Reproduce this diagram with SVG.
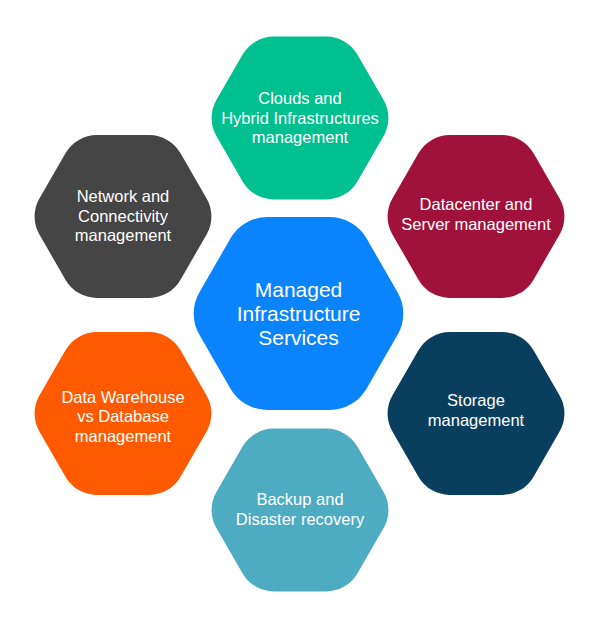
<svg xmlns="http://www.w3.org/2000/svg" xmlns:xlink="http://www.w3.org/1999/xlink" width="600" height="628" viewBox="0 0 600 628">
<style>
.t{font-family:"Liberation Sans",Arial,sans-serif;font-size:16.5px;fill:#ffffff;text-anchor:middle}
.tc{font-family:"Liberation Sans",Arial,sans-serif;font-size:21px;fill:#ffffff;text-anchor:middle}
</style>
<defs>
<path id="hex" d="M-26.22,-81.41 L26.22,-81.41 A36,36 0 0 1 57.39,-63.41 L83.61,-18 A36,36 0 0 1 83.61,18 L57.39,63.41 A36,36 0 0 1 26.22,81.41 L-26.22,81.41 A36,36 0 0 1 -57.39,63.41 L-83.61,18 A36,36 0 0 1 -83.61,-18 L-57.39,-63.41 A36,36 0 0 1 -26.22,-81.41 Z"/>
</defs>
<rect width="600" height="628" fill="#ffffff"/>
<g id="connectors"></g>
<g id="clouds">
<use xlink:href="#hex" href="#hex" transform="translate(300,118)" fill="#00C08F"/>
<text class="t" x="300" y="104">Clouds and</text>
<text class="t" x="300" y="123.5">Hybrid Infrastructures</text>
<text class="t" x="300" y="143">management</text>
</g>
<g id="network">
<use xlink:href="#hex" href="#hex" transform="translate(123,216.5)" fill="#454545"/>
<text class="t" x="123" y="202">Network and</text>
<text class="t" x="123" y="221.5">Connectivity</text>
<text class="t" x="123" y="241">management</text>
</g>
<g id="datacenter">
<use xlink:href="#hex" href="#hex" transform="translate(476,216.5)" fill="#A0113B"/>
<text class="t" x="476" y="210">Datacenter and</text>
<text class="t" x="476" y="229.5">Server management</text>
</g>
<g id="center">
<use xlink:href="#hex" href="#hex" transform="translate(298.5,313.5) scale(1.185)" fill="#0A84FC"/>
<text class="tc" x="298.5" y="297">Managed</text>
<text class="tc" x="298.5" y="321">Infrastructure</text>
<text class="tc" x="298.5" y="345">Services</text>
</g>
<g id="datawarehouse">
<use xlink:href="#hex" href="#hex" transform="translate(123,413.5)" fill="#FF5A00"/>
<text class="t" x="123" y="402.5">Data Warehouse</text>
<text class="t" x="123" y="422">vs Database</text>
<text class="t" x="123" y="441.5">management</text>
</g>
<g id="storage">
<use xlink:href="#hex" href="#hex" transform="translate(476,413.5)" fill="#0A3E5F"/>
<text class="t" x="476" y="406">Storage</text>
<text class="t" x="476" y="425.5">management</text>
</g>
<g id="backup">
<use xlink:href="#hex" href="#hex" transform="translate(300,510)" fill="#4DABC2"/>
<text class="t" x="300" y="505">Backup and</text>
<text class="t" x="300" y="524.5">Disaster recovery</text>
</g>
</svg>
